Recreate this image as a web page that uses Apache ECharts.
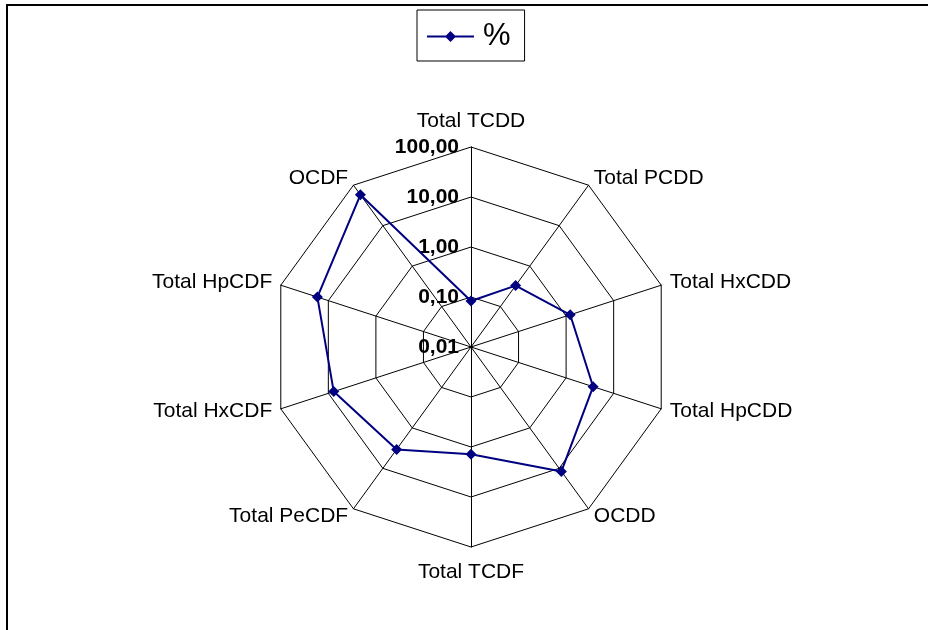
<!DOCTYPE html>
<html>
<head>
<meta charset="utf-8">
<script src="https://cdn.jsdelivr.net/npm/echarts@6/dist/echarts.min.js"></script>
<style>html,body{margin:0;padding:0;background:#fff;}#c{width:928px;height:630px;}</style>
</head>
<body>
<div id="c"></div>
<script>
// Categories in clockwise order starting at the top
const categories = ['Total TCDD', 'Total PCDD', 'Total HxCDD', 'Total HpCDD', 'OCDD',
  'Total TCDF', 'Total PeCDF', 'Total HxCDF', 'Total HpCDF', 'OCDF'];
// Percent values (log scale)
const percentValues = [0.083, 0.33, 1.22, 3.7, 11.9, 1.4, 3.4, 7.7, 17, 58];
// Log-scale tick range (powers of ten)
const logMin = -2, logMax = 2;
const seriesName = '%';

// ECharts places indicators counter-clockwise: reverse (keeping first on top)
const order = [0].concat(categories.map((_, i) => i).slice(1).reverse());
const indicators = order.map((idx, k) => {
  const ind = { name: categories[idx], min: logMin, max: logMax, axisLabel: { show: k === 0 } };
  if (idx === 0 || idx === 5) ind.nameGap = 15;
  return ind;
});
const logData = order.map(idx => Math.log10(percentValues[idx]));

const chart = echarts.init(document.getElementById('c'));
const font = '"Liberation Sans", Arial, sans-serif';
chart.setOption({
  animation: false,
  backgroundColor: '#fff',
  graphic: [{
    type: 'rect', shape: { x: 7, y: 5, width: 1000, height: 1000 },
    style: { fill: 'none', stroke: '#000', lineWidth: 2 }, silent: true
  }],
  legend: {
    left: 417, top: 10,
    padding: [11, 14, 9, 10],
    borderColor: '#000', borderWidth: 1,
    itemWidth: 47, itemHeight: 11, itemGap: 0,
    textStyle: { fontSize: 31, color: '#000', fontFamily: font, padding: [0, 0, 0, 4] },
    data: [{ name: seriesName, icon: 'path://M0,4.5 H47 V6.5 H0 Z M23.5,0 L29,5.5 L23.5,11 L18,5.5 Z' }]
  },
  radar: {
    center: [471, 347],
    radius: 200,
    startAngle: 90,
    splitNumber: 4,
    shape: 'polygon',
    nameGap: 9,
    axisName: { color: '#000', fontSize: 21, fontFamily: font },
    axisLine: { lineStyle: { color: '#000', width: 1 } },
    splitLine: { lineStyle: { color: '#000', width: 1 } },
    splitArea: { show: false },
    axisTick: { show: false },
    axisLabel: {
      show: true, color: '#000', fontSize: 21, fontWeight: 'bold', fontFamily: font, margin: 12,
      formatter: v => Math.pow(10, v).toFixed(2).replace('.', ',')
    },
    indicator: indicators
  },
  series: [{
    type: 'radar',
    name: seriesName,
    symbol: 'diamond',
    symbolSize: 11,
    lineStyle: { color: '#000080', width: 2 },
    itemStyle: { color: '#000080' },
    data: [{ name: seriesName, value: logData }]
  }]
});
</script>
</body>
</html>
